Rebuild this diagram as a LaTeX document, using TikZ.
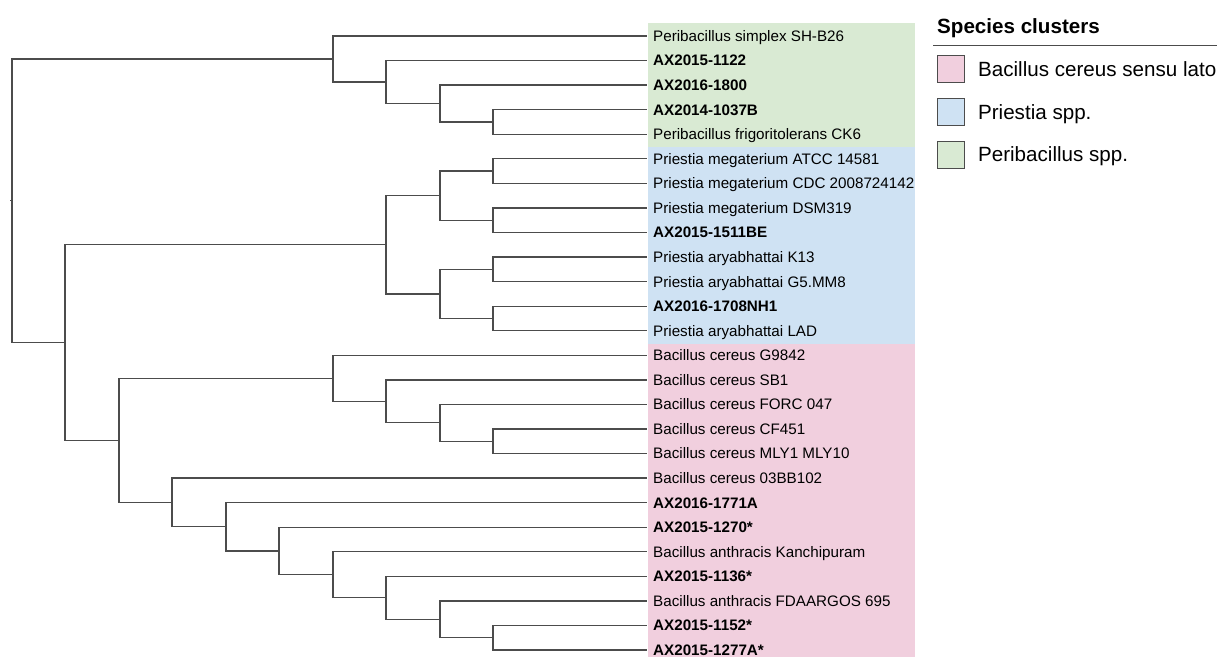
\documentclass[tikz,border=0pt]{standalone}
\usepackage{fontspec}
\setmainfont{Liberation Sans}
\usetikzlibrary{positioning,calc}

\definecolor{peri}{RGB}{217,234,211}
\definecolor{pries}{RGB}{207,226,243}
\definecolor{bcer}{RGB}{241,207,222}

% clade: name, x, first child, second child
\newcommand\clade[4]{%
  \coordinate (#1) at ($(#3)!0.5!(#4)$);
  \coordinate (#1) at (#2,0 |- #1);
  \draw[branch] (#1) |- (#3);
  \draw[branch] (#1) |- (#4);
}

\begin{document}
\begin{tikzpicture}[
    x=1pt, y=-1pt,
    branch/.style={draw=black!70, line width=1.3pt},
    leaf/.style={anchor=west, inner xsep=6pt, inner ysep=0pt, text height=10.8pt, text depth=0pt, font=\fontsize{15.2}{18}\selectfont},
    legbox/.style={draw=black!70, line width=0.8pt, minimum size=27pt, inner sep=0pt},
    legtext/.style={anchor=west, inner sep=0pt, text height=14.6pt, text depth=0pt, font=\fontsize{20.6}{24}\selectfont}
]
    \useasboundingbox (0,0) rectangle (1217,657);

    % cluster bands
    \fill[peri] (648,23) rectangle (915,147);
    \fill[pries] (648,147) rectangle (915,343.5);
    \fill[bcer] (648,343.5) rectangle (915,657);

    % tips
    \foreach \t [count=\i] in {Peribacillus simplex SH-B26, \textbf{AX2015-1122}, \textbf{AX2016-1800},
        \textbf{AX2014-1037B}, Peribacillus frigoritolerans CK6, Priestia megaterium ATCC 14581,
        Priestia megaterium CDC 2008724142, Priestia megaterium DSM319, \textbf{AX2015-1511BE},
        Priestia aryabhattai K13, Priestia aryabhattai G5.MM8, \textbf{AX2016-1708NH1},
        Priestia aryabhattai LAD, Bacillus cereus G9842, Bacillus cereus SB1, Bacillus cereus FORC 047,
        Bacillus cereus CF451, Bacillus cereus MLY1 MLY10, Bacillus cereus 03BB102, \textbf{AX2016-1771A},
        \textbf{AX2015-1270*}, Bacillus anthracis Kanchipuram, \textbf{AX2015-1136*},
        Bacillus anthracis FDAARGOS 695, \textbf{AX2015-1152*}, \textbf{AX2015-1277A*}}
        \node[leaf] (L\i) at (647, {36+24.56*(\i-1)}) {\t};

    % Peribacillus
    \clade{p4}{493}{L4.west}{L5.west}
    \clade{p3}{440}{L3.west}{p4}
    \clade{p2}{386}{L2.west}{p3}
    \clade{p1}{333}{L1.west}{p2}

    % Priestia
    \clade{q1}{493}{L6.west}{L7.west}
    \clade{q2}{493}{L8.west}{L9.west}
    \clade{q3}{493}{L10.west}{L11.west}
    \clade{q4}{493}{L12.west}{L13.west}
    \clade{q12}{440}{q1}{q2}
    \clade{q34}{440}{q3}{q4}
    \clade{q}{386}{q12}{q34}

    % Bacillus cereus s.l.
    \clade{b4}{493}{L17.west}{L18.west}
    \clade{b3}{440}{L16.west}{b4}
    \clade{b2}{386}{L15.west}{b3}
    \clade{b1}{333}{L14.west}{b2}
    \clade{c6}{493}{L25.west}{L26.west}
    \clade{c5}{440}{L24.west}{c6}
    \clade{c4}{386}{L23.west}{c5}
    \clade{c3}{333}{L22.west}{c4}
    \clade{c2}{279}{L21.west}{c3}
    \clade{c1}{226}{L20.west}{c2}
    \clade{c0}{172}{L19.west}{c1}
    \clade{bc}{119}{b1}{c0}

    \clade{pb}{65}{q}{bc}
    \clade{root}{12}{p1}{pb}
    \coordinate (stub) at ($(root)+(-2.5,0)$);
    \draw[branch] (root) -- (stub);

    % legend
    \node[anchor=base west, inner sep=0pt, font=\bfseries\fontsize{20.6}{24}\selectfont] (title) at (937,33) {Species clusters};
    \coordinate (rule l) at (933,45);
    \coordinate (rule r) at (1217,45);
    \draw[black!70, line width=0.8pt] (rule l) -- (rule r);
    \node[legbox, fill=bcer] (k1) at (951,69) {};
    \node[legbox, fill=pries, below=15pt of k1] (k2) {};
    \node[legbox, fill=peri, below=15pt of k2] (k3) {};
    \node[legtext, right=13pt of k1] (t1) {Bacillus cereus sensu lato};
    \node[legtext, right=13pt of k2] (t2) {Priestia spp.};
    \node[legtext, right=13pt of k3] (t3) {Peribacillus spp.};
\end{tikzpicture}
\end{document}
